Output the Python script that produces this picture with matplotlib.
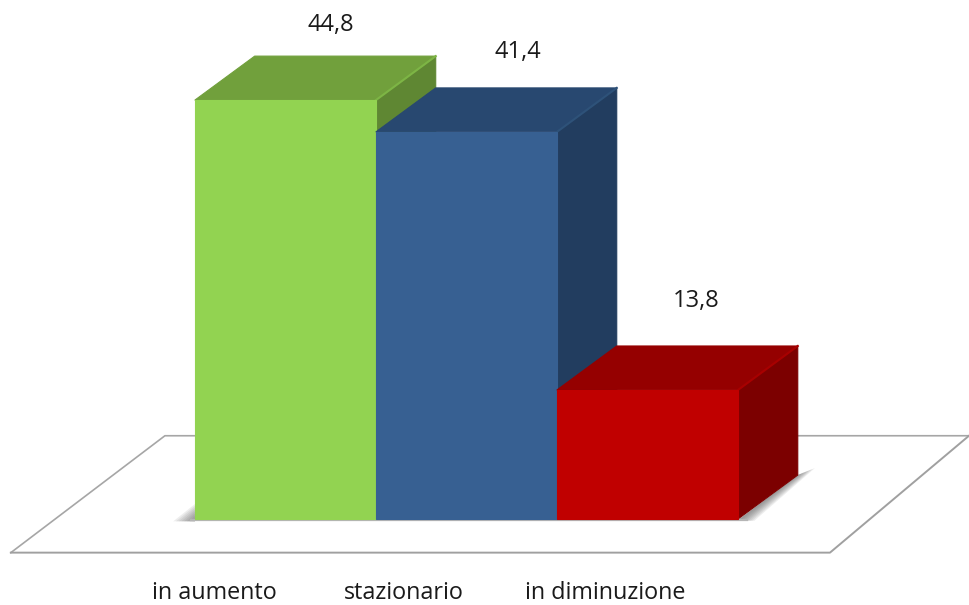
import matplotlib
matplotlib.use('Agg')
import matplotlib.pyplot as plt
from matplotlib.patches import Polygon

categories = ['in aumento', 'stazionario', 'in diminuzione']
values = [44.8, 41.4, 13.8]
value_labels = ['44,8', '41,4', '13,8']

front_colors = ['#92d351', '#376092', '#c00000']
top_colors = ['#71a03c', '#284870', '#950000']
side_colors = ['#5f8733', '#223d5f', '#7c0000']
edge_colors = ['#7db545', '#2e5279', '#a80000']

# oblique depth of the fake 3d, in data units
depth_x = 0.33
depth_y = 4.7

plt.rcParams['font.family'] = ['Open Sans', 'DejaVu Sans']

fig = plt.figure(figsize=(9.69, 6.05), dpi=100)
ax = fig.add_axes([0, 0, 1, 1])
ax.set_xlim(-1.077, 4.276)
ax.set_ylim(-9.2, 55.5)
ax.axis('off')

# floor
ax.plot([-1.017, -0.166, 4.276], [-3.6, 8.9, 8.9], color='#a6a6a6', lw=1.2, zorder=1)
ax.plot([-1.017, 3.508, 4.276], [-3.6, -3.6, 8.9], color='#a0a0a0', lw=1.4, zorder=1)

# soft shadows on the floor
steps = 8
for n in range(steps):
    f = 1 - n / steps
    ax.add_patch(Polygon([(0, 0), (0, 1.6 * f), (-0.12 * f, -0.25), (0, -0.25)],
                         fc='#555555', ec='none', alpha=0.1, zorder=2))
    ax.add_patch(Polygon([(3, -0.1), (3.33, depth_y), (3.33 + 0.095 * f, depth_y + 0.75 * f),
                          (3 + 0.09 * f, -0.2)],
                         fc='#555555', ec='none', alpha=0.1, zorder=2))
ax.plot([-0.02, 3.05], [-0.15, -0.15], color='#b5b5b5', lw=1.6, zorder=2)

# drawn left to right, each bar covers the side of the one before it
for i in range(3):
    v = values[i]
    z = 3 + i * 2
    ax.add_patch(Polygon([(i + 1, 0), (i + 1 + depth_x, depth_y),
                          (i + 1 + depth_x, v + depth_y), (i + 1, v)],
                         fc=side_colors[i], ec=side_colors[i], lw=0.8, joinstyle='round', zorder=z))
    ax.add_patch(Polygon([(i, v), (i + depth_x, v + depth_y),
                          (i + 1 + depth_x, v + depth_y), (i + 1, v)],
                         fc=top_colors[i], ec=top_colors[i], lw=0.8, joinstyle='round', zorder=z))
    ax.plot([i + 1, i + 1 + depth_x], [v, v + depth_y], color=edge_colors[i], lw=1.5, zorder=z)
    ax.bar(i, v, width=1, align='edge', color=front_colors[i],
           edgecolor=front_colors[i], lw=0.8, zorder=z + 1)

# value labels sit above each top face
label_dx = [0.751, 0.785, 0.768]
label_dy = [8.03, 8.55, 9.5]
for i in range(3):
    ax.text(i + label_dx[i], values[i] + label_dy[i], value_labels[i], ha='center', va='center',
            fontsize=17, color='#1a1a1a')

# category labels are not centred under the bars in the original
cat_dx = [0.11, 0.155, 0.265]
for i in range(3):
    ax.text(i + cat_dx[i], -8.55, categories[i], ha='center', va='baseline',
            fontsize=16.8, color='#1a1a1a')

fig.savefig('out.png', dpi=100)
